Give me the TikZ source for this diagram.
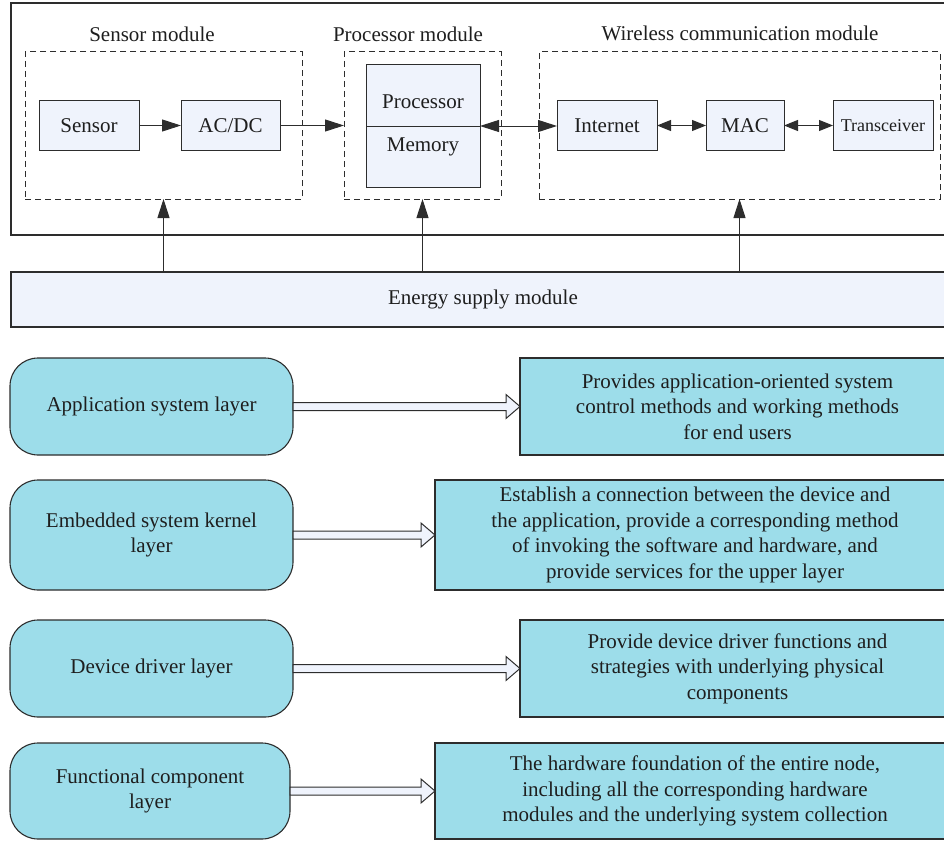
\documentclass[tikz,border=0pt]{standalone}
\usepackage{fontspec}
\setmainfont{LiberationSerif}[Extension=.ttf, UprightFont=*-Regular, BoldFont=*-Bold, ItalicFont=*-Italic, BoldItalicFont=*-BoldItalic]
\usetikzlibrary{arrows.meta,calc}
\definecolor{layercyan}{RGB}{157,221,234}
\definecolor{paleblue}{RGB}{239,243,252}
\definecolor{edge}{RGB}{45,45,45}
\definecolor{ink}{RGB}{30,30,30}
% wide hollow arrow from the east side of #1 to the west side of #2
\newcommand\hollowarrow[2]{%
  \draw[harrow] ($(#1.east)+(0,-4)$) -- ($(#1.east -| #2.west)+(-14,-4)$)
    -- ($(#1.east -| #2.west)+(-14,-12)$) -- (#1.east -| #2.west)
    -- ($(#1.east -| #2.west)+(-14,12)$) -- ($(#1.east -| #2.west)+(-14,4)$)
    -- ($(#1.east)+(0,4)$) -- cycle;}
\begin{document}
\begin{tikzpicture}[x=1pt,y=-1pt,
  font=\rmfamily\fontsize{21}{25.5}\selectfont, text=ink,
  every node/.style={inner sep=0pt, outer sep=0pt},
  frame/.style={draw=edge, line width=1.2pt},
  unit/.style={draw=edge, line width=1pt, fill=paleblue},
  module/.style={draw=edge, line width=1pt, dash pattern=on 6pt off 4pt},
  layerbox/.style={draw=edge, line width=1.1pt, fill=layercyan, rounded corners=28pt, align=center},
  descbox/.style={draw=edge, line width=1.1pt, fill=layercyan, align=center},
  arr/.style={draw=edge, line width=1pt, -{Triangle[length=19pt,width=12pt]}},
  ldarr/.style={draw=edge, line width=1pt, {Triangle[length=19pt,width=12pt]}-{Triangle[length=19pt,width=12pt]}},
  darr/.style={draw=edge, line width=1pt, {Triangle[length=14pt,width=11pt]}-{Triangle[length=14pt,width=11pt]}},
  harrow/.style={draw=edge, line width=1pt, fill=paleblue, line join=miter}
]
\useasboundingbox (0,0) rectangle (944,840);
\clip (0,0) rectangle (944,840);

% ---------- node hardware structure ----------
\node[frame, minimum width=944pt, minimum height=232pt] (outer) at (483,119) {};
\node[frame, fill=paleblue, minimum width=944pt, minimum height=55pt] (energy) at (483,299.5) {Energy supply module};

\node[module, minimum width=277pt, minimum height=147pt] (smod) at (163.5,125.5) {};
\node[module, minimum width=157pt, minimum height=147pt] (pmod) at (422.5,125.5) {};
\node[module, minimum width=401pt, minimum height=147pt] (wmod) at (739.5,125.5) {};

\node[anchor=base] (slab) at (152,42) {Sensor module};
\node[anchor=base] (plab) at (408,42) {Processor module};
\node[anchor=base] (wlab) at (740,41) {Wireless communication module};

\node[unit, minimum width=100pt, minimum height=49pt] (sensor) at (89,125.5) {Sensor};
\node[unit, minimum width=99pt, minimum height=49pt] (acdc) at (230.5,125.5) {AC/DC};

\node[unit, minimum width=114pt, minimum height=122pt] (procbox) at (423,126) {};
\draw[edge, line width=1pt] (procbox.west) -- (procbox.east);
\node[anchor=base] (proctxt) at (423,109) {Processor};
\node[anchor=base] (memtxt) at (423,151) {Memory};

\node[unit, minimum width=100pt, minimum height=49pt] (inet) at (607,125.5) {Internet};
\node[unit, minimum width=78pt, minimum height=49pt] (mac) at (745,125.5) {MAC};
\node[unit, minimum width=100pt, minimum height=49pt, font=\rmfamily\fontsize{18}{20}\selectfont] (trx) at (883,125.5) {Transceiver};

\draw[arr] (sensor.east) -- (acdc.west);
\draw[arr] (acdc.east) -- (acdc.east -| pmod.west);
\draw[ldarr] (procbox.east) -- (procbox.east -| inet.west);
\draw[darr] (inet.east) -- (mac.west);
\draw[darr] (mac.east) -- (trx.west);

\draw[arr] (energy.north -| smod.south) -- (smod.south);
\draw[arr] (energy.north -| pmod.south) -- (pmod.south);
\draw[arr] (energy.north -| wmod.south) -- (wmod.south);

% ---------- software layers ----------
\node[layerbox, minimum width=283pt, minimum height=97pt] (app) at (151.5,406.5) {Application system layer};
\node[layerbox, minimum width=283pt, minimum height=110pt] (emb) at (151.5,535) {Embedded system kernel\\layer};
\node[layerbox, minimum width=283pt, minimum height=97pt] (dev) at (151.5,668.5) {Device driver layer};
\node[layerbox, minimum width=280pt, minimum height=96pt] (func) at (150,791) {Functional component\\layer};

\node[descbox, minimum width=435pt, minimum height=97pt] (d1) at (737.5,406.5)
  {Provides application-oriented system\\control methods and working methods\\for end users};
\node[descbox, minimum width=520pt, minimum height=110pt] (d2) at (695,535)
  {Establish a connection between the device and\\the application, provide a corresponding method\\of invoking the software and hardware, and\\provide services for the upper layer};
\node[descbox, minimum width=435pt, minimum height=97pt] (d3) at (737.5,668.5)
  {Provide device driver functions and\\strategies with underlying physical\\components};
\node[descbox, minimum width=520pt, minimum height=96pt] (d4) at (695,791)
  {The hardware foundation of the entire node,\\including all the corresponding hardware\\modules and the underlying system collection};

\hollowarrow{app}{d1}
\hollowarrow{emb}{d2}
\hollowarrow{dev}{d3}
\hollowarrow{func}{d4}
\end{tikzpicture}
\end{document}
